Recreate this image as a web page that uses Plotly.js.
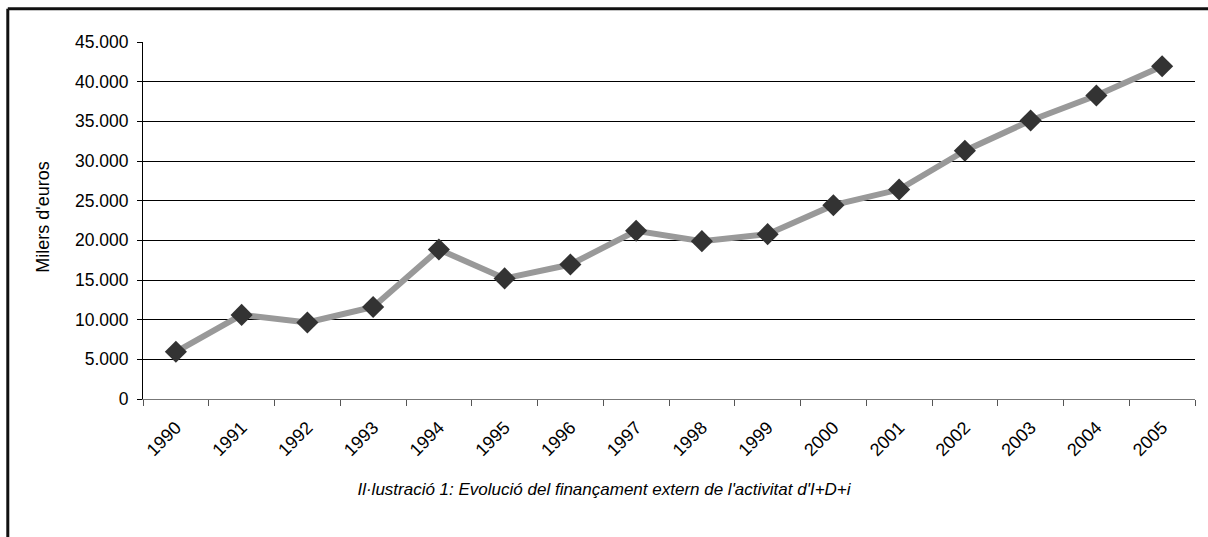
<!DOCTYPE html>
<html>
<head>
<meta charset="utf-8">
<script src="https://cdn.plot.ly/plotly-3.0.1.min.js"></script>
<style>
html,body{margin:0;padding:0;background:#fff;}
#chart{width:1208px;height:537px;}
</style>
</head>
<body>
<div id="chart"></div>
<script>
const years = ["1990","1991","1992","1993","1994","1995","1996","1997","1998","1999","2000","2001","2002","2003","2004","2005"];
const values = [5950, 10600, 9650, 11600, 18850, 15200, 16950, 21200, 19900, 20780, 24430, 26400, 31300, 35100, 38250, 41950];
const yTicks = [0, 5000, 10000, 15000, 20000, 25000, 30000, 35000, 40000, 45000];
const yTickText = ["0", "5.000", "10.000", "15.000", "20.000", "25.000", "30.000", "35.000", "40.000", "45.000"];
const yTitle = "Milers d'euros";
const caption = "Il·lustració 1: Evolució del finançament extern de l'activitat d'I+D+i";

const W = 1208, H = 537;
const L = 142.7, R = 1194.7, T = 41.7, B = 399;
const pw = R - L, ph = B - T;
const px = x => (x - L) / pw;
const py = y => (B - y) / ph;

const trace = {
  x: years, y: values, type: 'scatter', mode: 'lines+markers',
  line: {color: '#999999', width: 6},
  marker: {symbol: 'diamond', size: 17, color: '#333333', line: {width: 0}},
  hoverinfo: 'x+y'
};

const font = "Liberation Sans, Arial, sans-serif";

const layout = {
  width: W, height: H,
  margin: {l: L, r: W - R, t: T, b: H - B, pad: 0},
  paper_bgcolor: '#ffffff', plot_bgcolor: '#ffffff',
  showlegend: false,
  font: {family: font, color: '#000000', size: 17},
  xaxis: {
    type: 'category', range: [-0.5, 15.5],
    tickson: 'boundaries', ticks: 'outside', ticklen: 6, tickcolor: '#555555', tickwidth: 1,
    showline: true, linecolor: '#777777', linewidth: 1,
    showgrid: false, zeroline: false,
    tickangle: -45, ticklabelstandoff: 10,
    tickfont: {family: font, size: 18, color: '#000'},
    fixedrange: true
  },
  yaxis: {
    range: [0, 45000], tickmode: 'array', tickvals: yTicks, ticktext: yTickText,
    ticks: 'outside', ticklen: 5, tickcolor: '#000', tickwidth: 1,
    showline: true, linecolor: '#000', linewidth: 1,
    showgrid: true, gridcolor: '#000', gridwidth: 1,
    zeroline: false, ticklabelstandoff: 5,
    tickfont: {family: font, size: 17.5, color: '#000'},
    fixedrange: true
  },
  title: {
    text: '<i>' + caption + '</i>',
    font: {family: font, size: 17, color: '#000'},
    xref: 'container', yref: 'container', x: 0.5, xanchor: 'center',
    y: 1 - 489 / H, yanchor: 'middle'
  },
  annotations: [{
    text: yTitle, xref: 'paper', yref: 'paper', x: px(42), y: 0.5 + 3 / ph,
    xanchor: 'center', yanchor: 'middle', textangle: -90, showarrow: false,
    font: {family: font, size: 18, color: '#000'}
  }],
  shapes: [{
    type: 'line', xref: 'paper', yref: 'paper', layer: 'above',
    x0: px(7.5), x1: px(1215), y0: py(8.5), y1: py(8.5),
    line: {color: '#111', width: 3}
  }, {
    type: 'line', xref: 'paper', yref: 'paper', layer: 'above',
    x0: px(7.5), x1: px(7.5), y0: py(8.5), y1: py(545),
    line: {color: '#111', width: 3}
  }]
};

Plotly.newPlot('chart', [trace], layout, {displayModeBar: false, staticPlot: true});
</script>
</body>
</html>
